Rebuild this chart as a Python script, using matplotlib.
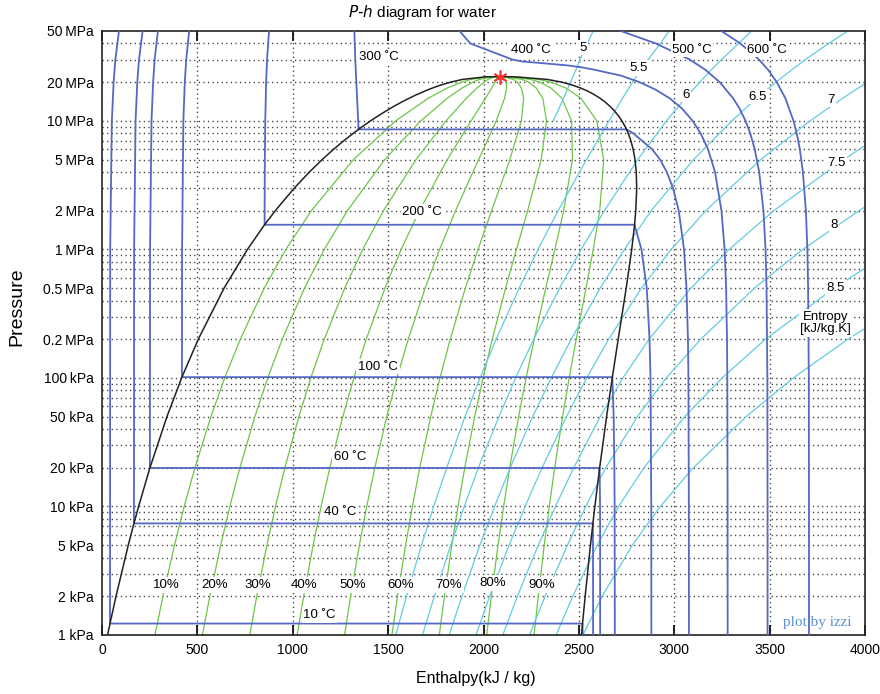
import matplotlib
matplotlib.use('Agg')
import matplotlib.pyplot as plt
from matplotlib.ticker import FixedLocator, NullFormatter

plt.rcParams['font.family'] = ['Liberation Sans', 'DejaVu Sans']

# ---------------- saturation dome (P in kPa, h in kJ/kg) ----------------
SAT_P = [1, 1.228, 2, 5, 7.384, 10, 19.94, 50, 101.42, 200, 500, 1000, 1554.9, 2000,
         3000, 4000, 5000, 6000, 7000, 8000, 8581, 9000, 10000, 11000, 12000, 13000,
         14000, 15000, 16000, 17000, 18000, 19000, 20000, 21000, 22000, 22064]
SAT_HF = [29.3, 42.0, 73.4, 137.7, 167.5, 191.8, 251.1, 340.5, 419.1, 504.7, 640.1, 762.5,
          852.3, 908.5, 1008.3, 1087.4, 1154.5, 1213.8, 1267.4, 1317.1, 1344.8, 1363.7,
          1408.1, 1450.3, 1491.5, 1531.4, 1571.0, 1610.3, 1649.9, 1690.7, 1732.0, 1776.9,
          1827.2, 1889.8, 2011.0, 2084.3]
SAT_HG = [2513.7, 2519.2, 2532.9, 2560.7, 2573.5, 2583.9, 2608.8, 2645.2, 2675.6, 2706.2,
          2748.1, 2777.1, 2792.0, 2798.3, 2803.2, 2800.8, 2794.2, 2784.6, 2772.6, 2758.7,
          2749.6, 2742.9, 2725.5, 2706.3, 2685.4, 2662.4, 2637.9, 2610.8, 2580.8, 2547.5,
          2509.5, 2464.4, 2411.4, 2334.5, 2166.0, 2084.3]
CRIT_H, CRIT_P = 2084.3, 22064

# ---------------- quality lines ----------------
QUAL_P = [1, 2, 5, 10, 20, 50, 100, 200, 500, 1000, 2000, 5000, 10000, 15000, 18000,
          20000, 21000, 22000, 22064]
q10 = [277.7, 319.4, 380.0, 431.0, 487.2, 571.0, 643.2, 724.9, 850.9, 964.0, 1097.5, 1318.5,
       1539.8, 1710.4, 1809.8, 1885.6, 1934.3, 2026.5, 2084.3]
q20 = [526.2, 565.3, 622.3, 670.2, 722.9, 801.4, 868.9, 945.0, 1061.7, 1165.4, 1286.5, 1482.4,
       1671.6, 1810.4, 1887.5, 1944.0, 1978.7, 2042.0, 2084.3]
q30 = [774.6, 811.3, 864.6, 909.4, 958.7, 1031.9, 1094.7, 1165.2, 1272.5, 1366.9, 1475.4,
       1646.4, 1803.3, 1910.5, 1965.3, 2002.5, 2023.2, 2057.5, 2084.3]
q40 = [1023.1, 1057.2, 1106.9, 1148.6, 1194.4, 1262.4, 1320.4, 1385.3, 1483.3, 1568.3, 1664.4,
       1810.4, 1935.1, 2010.5, 2043.0, 2060.9, 2067.7, 2073.0, 2084.3]
q50 = [1271.5, 1303.2, 1349.2, 1387.9, 1430.2, 1492.9, 1546.2, 1605.5, 1694.1, 1769.8, 1853.4,
       1974.4, 2066.8, 2110.6, 2120.8, 2119.3, 2112.2, 2088.5, 2084.3]
q60 = [1520.0, 1549.1, 1591.5, 1627.1, 1665.9, 1723.3, 1771.9, 1825.6, 1904.9, 1971.3, 2042.4,
       2138.3, 2198.5, 2210.6, 2198.5, 2177.7, 2156.6, 2104.0, 2084.3]
q70 = [1768.4, 1795.1, 1833.8, 1866.3, 1901.7, 1953.8, 1997.7, 2045.8, 2115.7, 2172.7, 2231.4,
       2302.3, 2330.3, 2310.7, 2276.3, 2236.1, 2201.1, 2119.5, 2084.3]
q80 = [2016.8, 2041.0, 2076.1, 2105.5, 2137.4, 2184.3, 2223.4, 2265.9, 2326.5, 2374.2, 2420.3,
       2466.3, 2462.0, 2410.7, 2354.0, 2294.6, 2245.6, 2135.0, 2084.3]
q90 = [2265.3, 2287.0, 2318.4, 2344.7, 2373.2, 2414.7, 2449.2, 2486.1, 2537.3, 2575.6, 2609.3,
       2630.2, 2593.8, 2510.8, 2431.8, 2353.0, 2290.0, 2150.5, 2084.3]
QUAL_LINES = [q10, q20, q30, q40, q50, q60, q70, q80, q90]
QUAL_LABELS = ['10%', '20%', '30%', '40%', '50%', '60%', '70%', '80%', '90%']
QUAL_LABEL_H = [339, 588, 815, 1060, 1312, 1568, 1818, 2049, 2306]
QUAL_LABEL_P = [2.45, 2.45, 2.45, 2.45, 2.45, 2.45, 2.45, 2.54, 2.45]

# ---------------- isotherms ----------------
# liquid branch (50 MPa down to saturation) and vapour branch (saturation down to 1 kPa)
T10_LP = [50000, 30000, 20000, 10000, 1000, 1.228]
T10_LH = [89, 70, 61, 51.5, 43, 42.0]
T10_VP = [1.228, 1.0]
T10_VH = [2519.2, 2519.7]

T40_LP = [50000, 30000, 20000, 10000, 1000, 7.384]
T40_LH = [213, 194, 185, 176, 168.3, 167.5]
T40_VP = [7.384, 5, 2, 1]
T40_VH = [2573.5, 2574.0, 2574.4, 2574.6]

T60_LP = [50000, 30000, 20000, 10000, 1000, 19.94]
T60_LH = [293, 276, 268, 259.5, 251.9, 251.1]
T60_VP = [19.94, 10, 5, 1]
T60_VH = [2608.8, 2611.0, 2611.3, 2611.6]

T100_LP = [50000, 30000, 20000, 10000, 1000, 101.42]
T100_LH = [457, 441.6, 434, 426.5, 419.8, 419.1]
T100_VP = [101.42, 50, 20, 10, 1]
T100_VH = [2675.6, 2682.4, 2686.0, 2687.5, 2688.5]

T200_LP = [50000, 30000, 20000, 10000, 5000, 1554.9]
T200_LH = [875.6, 865.3, 860.4, 855.9, 853.6, 852.3]
T200_VP = [1554.9, 1000, 500, 200, 100, 10, 1]
T200_VH = [2792.0, 2827.9, 2855.8, 2870.5, 2875.5, 2879.5, 2880.0]

T300_LP = [50000, 30000, 20000, 10000, 8581]
T300_LH = [1323, 1327.8, 1333.3, 1343.0, 1344.8]
T300_VP = [8581, 8000, 6000, 5000, 4000, 3000, 2000, 1000, 500, 200, 100, 10, 1]
T300_VH = [2749.6, 2785.0, 2884.2, 2925.7, 2960.7, 2993.5, 3023.5, 3051.2, 3064.2, 3071.8,
           3074.3, 3076.5, 3077.0]

T400_P = [50000, 40000, 30000, 29000, 28000, 27000, 26000, 25000, 22500, 20000, 17500, 15000,
          12500, 10000, 8000, 6000, 4000, 2000, 1000, 500, 200, 100, 10, 1]
T400_H = [1874.6, 1930.9, 2151.1, 2200, 2320, 2440, 2520, 2580.2, 2720, 2818.1, 2902, 2975.5,
          3040, 3096.5, 3138.3, 3177.2, 3213.6, 3247.6, 3263.9, 3271.9, 3276.6, 3278.2,
          3279.6, 3280.0]
T500_P = [50000, 40000, 30000, 25000, 20000, 15000, 12500, 10000, 8000, 6000, 4000, 2000,
          1000, 500, 100, 10, 1]
T500_H = [2720.1, 2903.3, 3081.1, 3162.4, 3238.2, 3308.6, 3341.8, 3373.7, 3398.3, 3422.2,
          3445.3, 3467.6, 3478.5, 3483.9, 3488.1, 3489.1, 3489.3]
T600_P = [50000, 40000, 30000, 25000, 20000, 15000, 10000, 8000, 6000, 4000, 2000, 1000,
          500, 100, 10, 1]
T600_H = [3247.6, 3346.4, 3443.9, 3491.4, 3537.6, 3582.3, 3625.3, 3642.0, 3658.4, 3674.4,
          3690.1, 3697.9, 3701.7, 3705.4, 3706.2, 3706.4]

ISO_LABELS = ['10 \u02daC', '40 \u02daC', '60 \u02daC', '100 \u02daC', '200 \u02daC',
              '300 \u02daC', '400 \u02daC', '500 \u02daC', '600 \u02daC']
ISO_LABEL_H = [1140, 1248, 1301, 1447, 1679, 1452, 2250, 3093, 3487]
ISO_LABEL_P = [1.43, 9.06, 24.3, 122, 1958, 31500, 35700, 35700, 35700]

# ---------------- isentropes (kJ/kg.K) ----------------
S5_P = [10000, 15000, 18000, 20000, 25000, 30000, 40000, 50000]
S5_H = [2366, 2420, 2443, 2456, 2485, 2505, 2545, 2575]
S55_P = [1, 2, 5, 10, 20, 50, 100, 200, 500, 1000, 2000, 5000, 10000, 15000, 20000, 25000,
         30000, 40000, 50000]
S55_H = [1540, 1596, 1675, 1739, 1807, 1903, 1982, 2066, 2187, 2286, 2391, 2540, 2658, 2729,
         2782, 2826, 2863, 2927, 2973]
S6_P = S55_P
S6_H = [1680, 1742, 1828, 1899, 1973, 2081, 2168, 2263, 2399, 2512, 2634, 2809, 2959, 3058,
        3134, 3195, 3248, 3337, 3405]
S65_P = S55_P
S65_H = [1820, 1887, 1981, 2058, 2140, 2258, 2355, 2460, 2612, 2739, 2879, 3101, 3302, 3432,
         3534, 3617, 3688, 3809, 3910]
S7_P = [1, 2, 5, 10, 20, 50, 100, 200, 500, 1000, 2000, 5000, 10000, 15000, 20000]
S7_H = [1961, 2032, 2134, 2218, 2307, 2435, 2541, 2656, 2828, 2984, 3165, 3454, 3712, 3883, 4013]
S75_P = [1, 2, 5, 10, 20, 50, 100, 200, 500, 1000, 2000, 5000, 8000]
S75_H = [2101, 2178, 2287, 2377, 2473, 2612, 2731, 2868, 3088, 3288, 3522, 3888, 4100]
S8_P = [1, 2, 5, 10, 20, 50, 100, 200, 500, 1000, 2000, 3000]
S8_H = [2241, 2323, 2440, 2536, 2641, 2807, 2958, 3139, 3421, 3674, 3969, 4150]
S85_P = [1, 2, 5, 10, 20, 50, 100, 200, 500, 1000]
S85_H = [2381, 2468, 2596, 2708, 2841, 3055, 3251, 3478, 3838, 4155]
S9_P = [1, 2, 5, 10, 20, 50, 100, 200, 300]
S9_H = [2521, 2622, 2780, 2927, 3100, 3377, 3624, 3910, 4097]

S_LABELS = ['5', '5.5', '6', '6.5', '7', '7.5', '8', '8.5']
S_LABEL_H = [2521, 2814, 3061, 3438, 3821, 3848, 3838, 3848]
S_LABEL_P = [37000, 25800, 16000, 15400, 14600, 4710, 1550, 501]

X_TICKS = [0, 500, 1000, 1500, 2000, 2500, 3000, 3500, 4000]
Y_TICKS = [1, 2, 5, 10, 20, 50, 100, 200, 500, 1000, 2000, 5000, 10000, 20000, 50000]
TS = '\u2009'
Y_TICK_LABELS = ['1 kPa', '2 kPa', '5 kPa', '10 kPa', '20 kPa', '50 kPa', '100' + TS + 'kPa',
                 '0.2' + TS + 'MPa', '0.5' + TS + 'MPa', '1' + TS + 'MPa', '2' + TS + 'MPa',
                 '5' + TS + 'MPa', '10' + TS + 'MPa', '20' + TS + 'MPa', '50' + TS + 'MPa']

BLUE = '#5468c6'
GREEN = '#6cc646'
CYAN = '#62cce0'

fig = plt.figure(figsize=(8.8, 6.94), dpi=100)
ax = fig.add_axes([102 / 880, 1 - 635 / 694, (865 - 102) / 880, (635 - 31) / 694])
ax.set_yscale('log')
ax.set_xlim(0, 4000)
ax.set_ylim(1, 50000)

# grid (dotted)
dot = (0, (0.9, 2.4))
for k in range(0, 5):
    for m in range(1, 10):
        v = m * 10 ** k
        if 1 < v < 50000:
            ax.axhline(v, color='#3a3a3a', lw=1.0, ls=dot, zorder=0.5)
for xv in X_TICKS[1:-1]:
    ax.axvline(xv, color='#3a3a3a', lw=1.0, ls=dot, zorder=0.5)

# quality lines
for qh in QUAL_LINES:
    ax.plot(qh, QUAL_P, color=GREEN, lw=0.9, zorder=2)

# isentropes
for sp, sh in [(S5_P, S5_H), (S55_P, S55_H), (S6_P, S6_H), (S65_P, S65_H), (S7_P, S7_H),
               (S75_P, S75_H), (S8_P, S8_H), (S85_P, S85_H), (S9_P, S9_H)]:
    ax.plot(sh, sp, color=CYAN, lw=0.9, zorder=2.5)

# isotherms
for lp, lh, vp, vh in [(T10_LP, T10_LH, T10_VP, T10_VH), (T40_LP, T40_LH, T40_VP, T40_VH),
                       (T60_LP, T60_LH, T60_VP, T60_VH), (T100_LP, T100_LH, T100_VP, T100_VH),
                       (T200_LP, T200_LH, T200_VP, T200_VH), (T300_LP, T300_LH, T300_VP, T300_VH)]:
    ax.plot(lh + vh, lp + vp, color=BLUE, lw=1.3, zorder=3)
for tp, th in [(T400_P, T400_H), (T500_P, T500_H), (T600_P, T600_H)]:
    ax.plot(th, tp, color=BLUE, lw=1.3, zorder=3)

# saturation dome
ax.plot(SAT_HF + SAT_HG[::-1], SAT_P + SAT_P[::-1], color='#222222', lw=1.1, zorder=3.5)
ax.plot([CRIT_H], [CRIT_P], marker=(6, 2, 0), color='#ff3030', ms=10, mew=1.2, zorder=6)

bb = dict(boxstyle='square,pad=0.12', fc='white', ec='none')
for t, h, p in zip(ISO_LABELS, ISO_LABEL_H, ISO_LABEL_P):
    ax.text(h, p, t, fontsize=9.5, ha='center', va='center', bbox=bb, zorder=5)
for t, h, p in zip(QUAL_LABELS, QUAL_LABEL_H, QUAL_LABEL_P):
    ax.text(h, p, t, fontsize=9.5, ha='center', va='center', bbox=bb, zorder=5)
for t, h, p in zip(S_LABELS, S_LABEL_H, S_LABEL_P):
    ax.text(h, p, t, fontsize=9.5, ha='center', va='center', bbox=bb, zorder=5)
ax.text(3795, 268, 'Entropy\n[kJ/kg.K]', fontsize=9.5, ha='center', va='center',
        linespacing=1.05, bbox=bb, zorder=5)
ax.text(3752, 1.26, 'plot by izzi', fontsize=11, ha='center', va='center',
        color='#5a8fd6', family=['Liberation Serif', 'DejaVu Serif'], zorder=5)

# ticks
ax.set_xticks(X_TICKS)
ax.set_xticklabels([str(v) for v in X_TICKS], fontsize=10)
ax.set_yticks(Y_TICKS)
ax.set_yticklabels(Y_TICK_LABELS, fontsize=10)
ax.yaxis.set_minor_locator(FixedLocator([1, 10, 100, 1000, 10000]))
ax.yaxis.set_minor_formatter(NullFormatter())
ax.tick_params(axis='y', which='major', length=0, pad=6)
ax.tick_params(axis='y', which='minor', length=7, width=1.2, direction='in',
               left=True, right=True)
ax.tick_params(axis='x', which='major', length=7, width=1.2, direction='in',
               top=True, bottom=True, pad=6)
for s in ax.spines.values():
    s.set_linewidth(1.2)
    s.set_color('#222222')

fig.text(476 / 880, 1 - 678 / 694, 'Enthalpy(kJ / kg)', fontsize=11.5, ha='center', va='center')
fig.text(17 / 880, 1 - 307 / 694, 'Pressure', fontsize=14, ha='center', va='center',
         rotation=90)
fig.text(423 / 880, 1 - 13 / 694, r'$\it{P\text{-}h}$' + ' diagram for water', fontsize=11,
         ha='center', va='center')

fig.savefig('out.png', dpi=100)
